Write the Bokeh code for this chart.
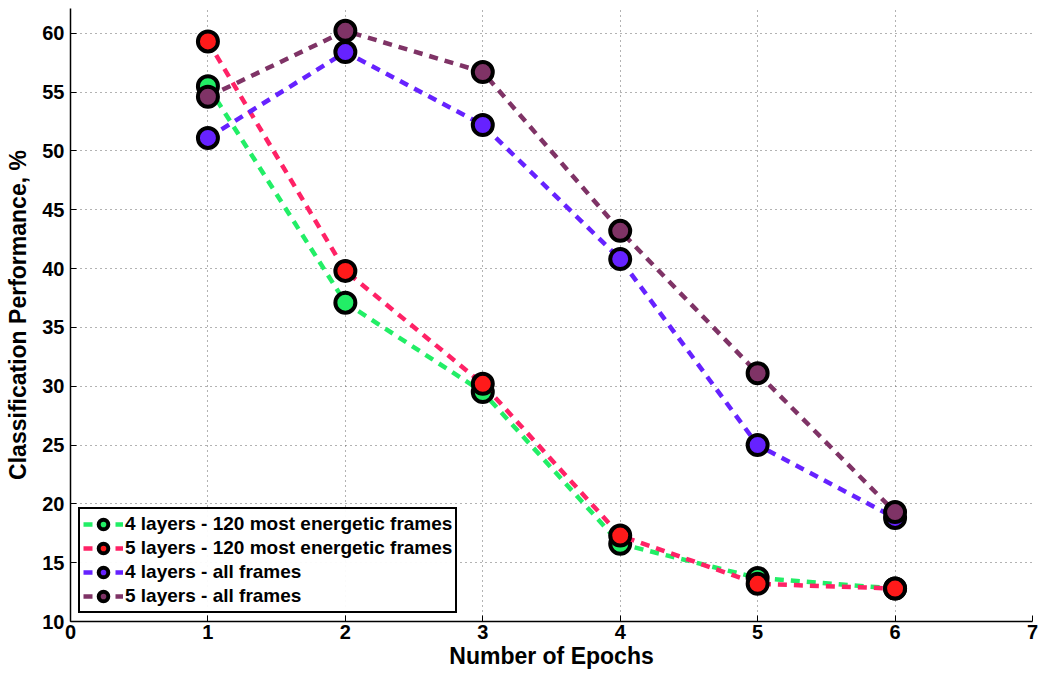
from bokeh.plotting import figure
from bokeh.embed import file_html
from bokeh.resources import INLINE
from bokeh.models import Legend, LegendItem, FixedTicker, Range1d

epochs = [1, 2, 3, 4, 5, 6]
s4_120 = [55.5, 37.1, 29.5, 16.6, 13.7, 12.8]
s5_120 = [59.3, 39.8, 30.2, 17.3, 13.2, 12.8]
s4_all = [51.1, 58.4, 52.2, 40.8, 25.0, 18.8]
s5_all = [54.6, 60.2, 56.7, 43.2, 31.1, 19.3]
labels = ["4 layers - 120 most energetic frames",
          "5 layers - 120 most energetic frames",
          "4 layers - all frames",
          "5 layers - all frames"]
line_colors = ["#22EE66", "#FF2266", "#6622FF", "#7F3366"]
fill_colors = ["#22EE66", "#FF1A1A", "#6622FF", "#7F3366"]
x_ticks = [0, 1, 2, 3, 4, 5, 6, 7]
y_ticks = [10, 15, 20, 25, 30, 35, 40, 45, 50, 55, 60]

p = figure(width=1039, height=675, output_backend="svg", toolbar_location=None,
           x_range=Range1d(0, 7), y_range=Range1d(10, 62.1),
           min_border_left=70, min_border_right=7, min_border_top=8, min_border_bottom=54)
p.outline_line_color = None
p.background_fill_color = "white"

font = "Liberation Sans"
for ax in (p.xaxis[0], p.yaxis[0]):
    ax.major_label_text_font = font
    ax.major_label_text_font_style = "bold"
    ax.major_label_text_font_size = "20px"
    ax.major_label_text_color = "black"
    ax.axis_label_text_font = font
    ax.axis_label_text_font_style = "bold"
    ax.axis_label_text_font_size = "23px"
    ax.axis_label_text_color = "black"
    ax.axis_line_color = "black"
    ax.axis_line_width = 1.5
    ax.major_tick_in = 6
    ax.major_tick_out = 0
    ax.minor_tick_line_color = None
    ax.major_tick_line_color = "black"
p.xaxis[0].ticker = FixedTicker(ticks=x_ticks)
p.yaxis[0].ticker = FixedTicker(ticks=y_ticks)
p.xaxis[0].axis_label = "Number of Epochs"
p.yaxis[0].axis_label = "Classification Performance, %"
p.xaxis[0].major_label_standoff = 3
p.yaxis[0].major_label_standoff = 6
p.xaxis[0].axis_label_standoff = 1
p.yaxis[0].axis_label_standoff = 8

for g in (p.xgrid[0], p.ygrid[0]):
    g.grid_line_color = "#666666"
    g.grid_line_dash = "1 4"
    g.grid_line_width = 1

items = []
for ys, lc, fc, lab in zip([s4_120, s5_120, s4_all, s5_all], line_colors, fill_colors, labels):
    l = p.line(epochs, ys, line_color=lc, line_width=4.5, line_dash="9 7")
    s = p.scatter(epochs, ys, marker="circle", size=20, fill_color=fc,
                  line_color="black", line_width=4)
    items.append(LegendItem(label=lab, renderers=[l, s]))

legend = Legend(items=items, location="bottom_left")
legend.label_text_font = font
legend.label_text_font_style = "bold"
legend.label_text_font_size = "19px"
legend.label_text_color = "black"
legend.border_line_color = "black"
legend.border_line_alpha = 1
legend.border_line_width = 2.5
legend.glyph_width = 40
legend.glyph_height = 24
legend.spacing = 0
legend.padding = 3
legend.margin = 8
legend.label_standoff = 2
legend.label_height = 24
p.add_layout(legend, "center")

open("out.html", "w").write(file_html(p, INLINE))
